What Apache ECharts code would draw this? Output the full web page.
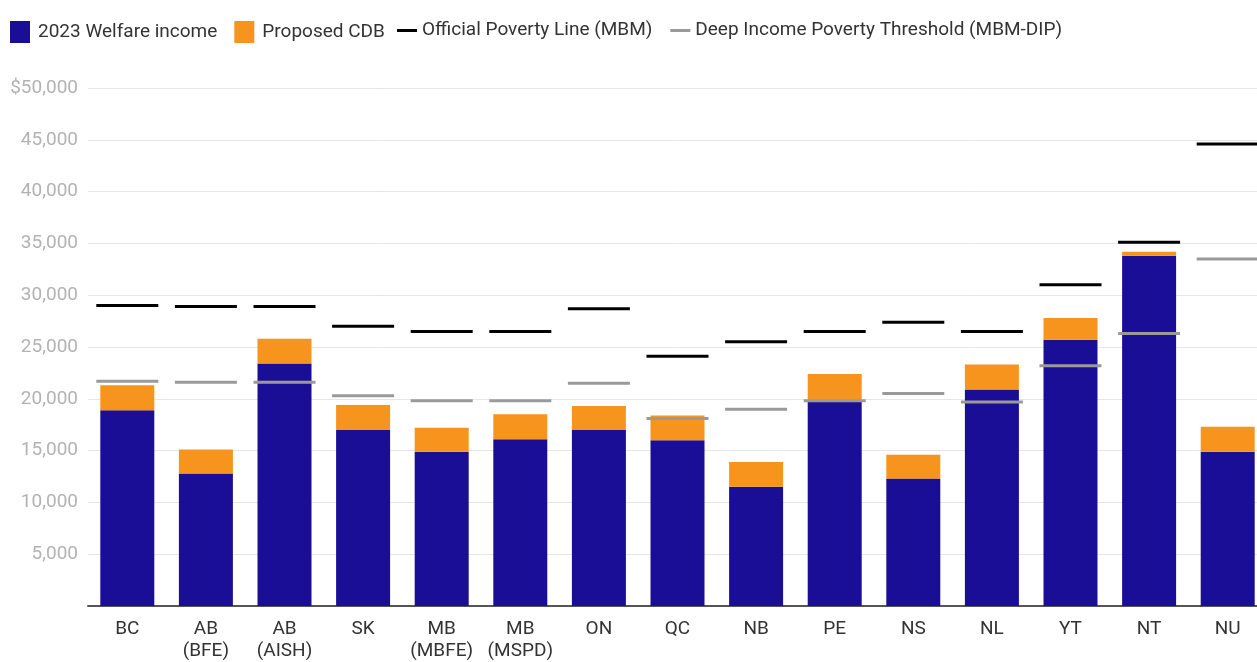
<!DOCTYPE html>
<html>
<head>
<meta charset="utf-8">
<title>Welfare income vs. poverty lines</title>
<script src="https://cdn.jsdelivr.net/npm/echarts@6/dist/echarts.min.js"></script>
<style>
  html, body { margin: 0; padding: 0; background: #fff; overflow: hidden; }
  /* the plot runs slightly past the right edge of the page, so the last column is clipped */
  #chart { width: 1267px; height: 662px; }
</style>
</head>
<body>
<div id="chart"></div>
<script>
// Provinces / programs
const categories = ['BC', 'AB\n(BFE)', 'AB\n(AISH)', 'SK', 'MB\n(MBFE)', 'MB\n(MSPD)', 'ON', 'QC', 'NB', 'PE', 'NS', 'NL', 'YT', 'NT', 'NU'];

// 2023 welfare income ($)
const welfareIncome = [18900, 12800, 23400, 17000, 14900, 16100, 17000, 16000, 11500, 19700, 12300, 20900, 25700, 33800, 14900];
// Proposed Canada Disability Benefit, stacked on top ($)
const proposedCDB = [2400, 2300, 2400, 2400, 2300, 2400, 2300, 2400, 2400, 2700, 2300, 2400, 2100, 400, 2400];
// Official poverty line, Market Basket Measure ($)
const mbmLine = [29000, 28900, 28900, 27000, 26500, 26500, 28700, 24100, 25500, 26500, 27400, 26500, 31000, 35100, 44600];
// Deep income poverty threshold, MBM-DIP ($)
const dipLine = [21700, 21600, 21600, 20300, 19800, 19800, 21500, 18100, 19000, 19800, 20500, 19700, 23200, 26300, 33500];

// Y-axis ticks
const yMin = 0, yMax = 50000, yStep = 5000;

const fontFamily = 'Roboto, "Noto Sans", sans-serif';
const chart = echarts.init(document.getElementById('chart'), null, { renderer: 'canvas' });

chart.setOption({
  animation: false,
  backgroundColor: '#fff',
  textStyle: { fontFamily },
  legend: [
    {
      data: ['2023 Welfare income', 'Proposed CDB'],
      left: 5, top: 16,
      itemWidth: 20, itemHeight: 22, itemGap: 17,
      icon: 'rect',
      textStyle: { color: '#333', fontSize: 19, fontFamily, padding: [0, 0, 0, 3] },
      selectedMode: false
    },
    {
      data: ['Official Poverty Line (MBM)', 'Deep Income Poverty Threshold (MBM-DIP)'],
      left: 392, top: 16,
      itemWidth: 20, itemHeight: 3, itemGap: 18,
      icon: 'rect',
      textStyle: { color: '#333', fontSize: 19, fontFamily },
      selectedMode: false
    }
  ],
  grid: { left: 88, top: 88, right: 0, height: 520, containLabel: false },
  xAxis: {
    type: 'category',
    data: categories,
    axisTick: { show: false },
    axisLine: { show: true, lineStyle: { color: '#555', width: 2 } },
    axisLabel: {
      interval: 0,
      color: '#333',
      fontSize: 19,
      lineHeight: 22,
      margin: 12,
      fontFamily
    }
  },
  yAxis: {
    type: 'value',
    min: yMin, max: yMax, interval: yStep,
    axisLine: { show: false },
    axisTick: { show: false },
    splitLine: { lineStyle: { color: '#e6e6e6', width: 1 } },
    axisLabel: {
      color: '#b3b3b3',
      fontSize: 19,
      margin: 10,
      fontFamily,
      formatter: function (v) {
        if (v === 0) return '';
        const s = v.toLocaleString('en-US');
        return v === yMax ? '$' + s : s;
      }
    }
  },
  series: [
    {
      name: '2023 Welfare income',
      type: 'bar',
      stack: 'income',
      data: welfareIncome,
      barWidth: 54,
      itemStyle: { color: '#1b0e96' }
    },
    {
      name: 'Proposed CDB',
      type: 'bar',
      stack: 'income',
      data: proposedCDB,
      barWidth: 54,
      itemStyle: { color: '#f7941d' }
    },
    {
      name: 'Official Poverty Line (MBM)',
      type: 'scatter',
      data: mbmLine,
      symbol: 'rect',
      symbolSize: [62, 3],
      itemStyle: { color: '#000', opacity: 1 },
      z: 5
    },
    {
      name: 'Deep Income Poverty Threshold (MBM-DIP)',
      type: 'scatter',
      data: dipLine,
      symbol: 'rect',
      symbolSize: [62, 3],
      itemStyle: { color: '#9a9a9a', opacity: 1 },
      z: 5
    }
  ]
});
</script>
</body>
</html>
